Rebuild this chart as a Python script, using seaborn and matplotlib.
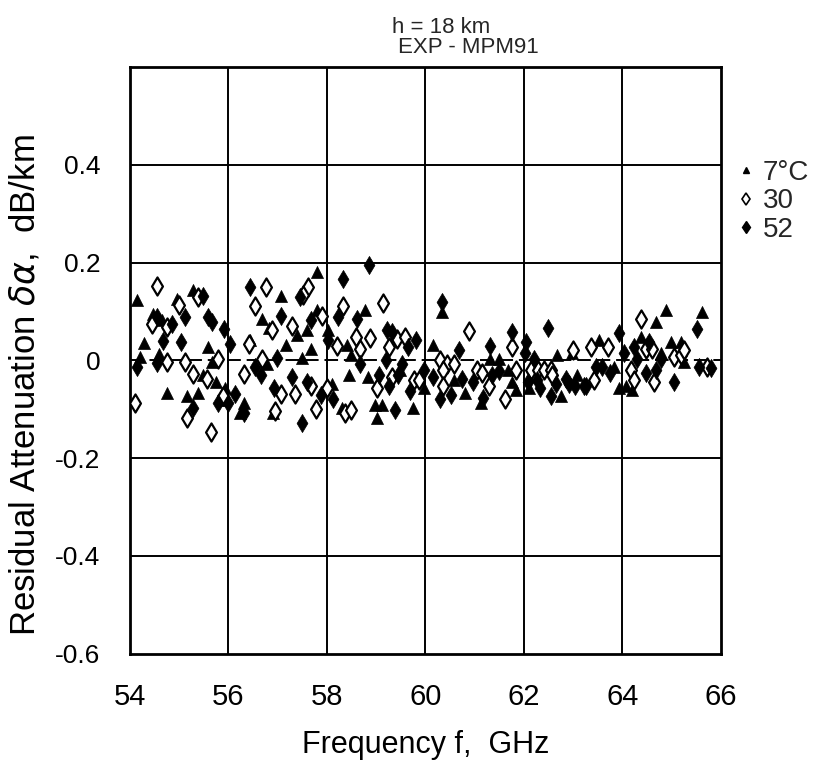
import matplotlib
matplotlib.use("Agg")
import matplotlib.pyplot as plt
from matplotlib.ticker import MultipleLocator, FixedLocator
from matplotlib.lines import Line2D
import seaborn as sns
import pandas as pd

# ---- data ----
tri_f = [54.14, 55.28, 54.95, 54.47, 54.65, 54.28, 54.59, 55.58, 54.20, 55.68, 55.48, 55.76,
         55.93, 54.75, 55.16, 55.38, 55.89, 56.23, 57.81, 57.08, 57.81, 56.68, 56.82, 57.59,
         57.39, 58.02, 57.18, 57.69, 58.42, 57.49, 58.50, 56.78, 58.10, 58.46, 58.30, 56.90,
         56.33, 56.45, 58.77, 60.33, 60.15, 59.48, 60.59, 58.83, 58.97, 59.13, 59.76, 59.03,
         61.32, 61.50, 62.68, 62.97, 61.67, 61.85, 63.07, 62.76, 61.77, 61.14, 64.89, 65.62,
         64.69, 64.38, 64.99, 65.20, 63.53, 64.79, 65.26, 63.84, 64.08, 64.20, 63.94, 59.98,
         60.80, 62.11]
tri_r = [0.124, 0.144, 0.126, 0.095, 0.082, 0.035, 0.012, 0.027, 0.006, -0.004, -0.029, -0.045,
         -0.056, -0.066, -0.072, -0.066, -0.082, -0.107, 0.181, 0.132, 0.103, 0.085, 0.066, 0.062,
         0.052, 0.062, 0.031, 0.023, 0.031, 0.004, 0.010, -0.008, -0.049, -0.029, -0.097, -0.107,
         -0.087, 0.041, 0.103, 0.099, 0.031, -0.019, -0.041, -0.035, -0.091, -0.091, -0.097, -0.118,
         0.002, 0.002, 0.010, 0.016, -0.019, -0.060, -0.031, -0.072, -0.045, -0.087, 0.103, 0.099,
         0.078, 0.047, 0.037, 0.037, 0.041, 0.016, -0.004, -0.014, -0.052, -0.060, -0.056, -0.056,
         -0.066, -0.056]

opn_f = [54.55, 55.38, 55.01, 54.45, 54.75, 54.75, 55.12, 55.79, 55.28, 55.56, 55.89, 54.10,
         55.16, 55.66, 56.76, 57.61, 57.51, 56.54, 58.32, 57.91, 56.88, 57.29, 58.20, 56.43,
         56.68, 56.33, 57.08, 57.35, 57.69, 58.00, 57.79, 58.38, 58.50, 56.94, 59.15, 60.88,
         58.87, 58.60, 59.42, 59.58, 59.27, 58.67, 60.29, 60.45, 60.59, 60.35, 59.33, 59.78,
         59.88, 59.03, 60.35, 61.77, 62.99, 61.04, 61.16, 61.85, 62.15, 62.28, 62.42, 62.56,
         62.58, 61.30, 61.61, 64.38, 63.37, 63.70, 64.49, 64.61, 65.05, 65.20, 65.26, 65.72,
         64.18, 64.65, 63.43, 64.24]
opn_r = [0.153, 0.130, 0.113, 0.074, 0.068, -0.004, -0.004, 0.002, -0.027, -0.039, -0.072, -0.087,
         -0.118, -0.146, 0.151, 0.151, 0.134, 0.111, 0.111, 0.091, 0.062, 0.070, 0.029, 0.033,
         0.002, -0.027, -0.068, -0.068, -0.052, -0.056, -0.099, -0.107, -0.101, -0.103, 0.118, 0.060,
         0.045, 0.047, 0.043, 0.047, 0.027, 0.023, 0.000, -0.008, -0.008, -0.019, -0.035, -0.041,
         -0.041, -0.056, -0.052, 0.027, 0.021, -0.019, -0.025, -0.019, -0.019, -0.019, -0.019, -0.019,
         -0.031, -0.052, -0.080, 0.085, 0.027, 0.027, 0.023, 0.023, 0.006, 0.010, 0.021, -0.014,
         -0.019, -0.045, -0.041, -0.041]

fil_f = [55.48, 54.55, 54.85, 55.12, 55.58, 55.68, 55.91, 54.67, 55.05, 56.03, 54.14, 54.55,
         56.13, 55.79, 55.99, 55.28, 58.32, 56.45, 57.45, 57.08, 58.22, 57.69, 58.02, 56.98,
         56.54, 56.66, 57.29, 56.92, 57.59, 57.89, 58.12, 56.33, 57.49, 60.33, 58.62, 59.23,
         59.33, 59.82, 59.64, 60.69, 59.21, 58.67, 59.52, 59.98, 60.15, 60.75, 59.07, 59.44,
         59.27, 59.68, 60.53, 60.29, 59.38, 62.50, 61.77, 61.32, 62.05, 62.03, 62.21, 61.50,
         61.36, 62.26, 62.32, 62.66, 62.86, 62.92, 63.23, 62.56, 60.96, 62.09, 61.18, 65.52,
         63.94, 64.55, 64.24, 64.04, 64.79, 65.56, 64.30, 64.49, 64.69, 65.05, 63.74, 63.27,
         63.47, 63.59, 63.03, 58.85, 65.80]
fil_r = [0.132, 0.089, 0.074, 0.089, 0.089, 0.078, 0.064, 0.039, 0.037, 0.033, -0.014, -0.006,
         -0.068, -0.087, -0.087, -0.097, 0.167, 0.151, 0.130, 0.091, 0.089, 0.082, 0.041, 0.004,
         -0.014, -0.029, -0.035, -0.056, -0.045, -0.070, -0.080, -0.107, -0.128, 0.120, 0.085, 0.062,
         0.058, 0.041, 0.027, 0.021, 0.000, -0.008, -0.008, -0.019, -0.035, -0.039, -0.029, -0.031,
         -0.052, -0.062, -0.070, -0.080, -0.101, 0.066, 0.058, 0.029, 0.037, 0.014, 0.002, -0.021,
         -0.031, -0.041, -0.056, -0.049, -0.039, -0.049, -0.052, -0.072, -0.045, -0.045, -0.078, 0.064,
         0.056, 0.037, 0.027, 0.016, 0.002, -0.014, 0.002, -0.025, -0.019, -0.045, -0.025, -0.052,
         -0.014, -0.014, -0.052, 0.196, -0.016]

legend_labels = ["7°C", "30", "52"]
x_ticks = [54, 56, 58, 60, 62, 64, 66]
y_ticks = [-0.6, -0.4, -0.2, 0, 0.2, 0.4]
y_tick_labels = ["-0.6", "-0.4", "-0.2", "0", "0.2", "0.4"]

# ---- style ----
sns.set_theme(style="white")
plt.rcParams["font.family"] = ["Liberation Sans", "DejaVu Sans"]
plt.rcParams["mathtext.fontset"] = "dejavusans"

fig = plt.figure(figsize=(8.21, 7.61), dpi=100)
ax = fig.add_axes([0.158, 0.141, 0.720, 0.771])

# grid lines
for gx in [56, 58, 60, 62, 64]:
    ax.axvline(gx, color="black", lw=1.4, zorder=1)
for gy in [0.4, 0.2, -0.2, -0.4]:
    ax.axhline(gy, color="black", lw=1.4, zorder=1)
ax.axhline(0, color="black", lw=1.4, ls=(0, (7, 3)), zorder=1)

df_t = pd.DataFrame({"f": tri_f, "r": tri_r})
df_o = pd.DataFrame({"f": opn_f, "r": opn_r})
df_d = pd.DataFrame({"f": fil_f, "r": fil_r})

sns.scatterplot(data=df_t, x="f", y="r", marker="^", s=75, color="black",
                edgecolor="black", linewidth=0.5, ax=ax, zorder=3)
sns.scatterplot(data=df_o, x="f", y="r", marker="d", s=85, color="white",
                edgecolor="black", linewidth=1.6, ax=ax, zorder=4)
sns.scatterplot(data=df_d, x="f", y="r", marker="d", s=85, color="black",
                edgecolor="black", linewidth=0.5, ax=ax, zorder=5)

ax.set_xlim(54, 66)
ax.set_ylim(-0.6, 0.6)
ax.xaxis.set_major_locator(FixedLocator(x_ticks))
ax.yaxis.set_major_locator(FixedLocator(y_ticks))
ax.set_yticklabels(y_tick_labels)
ax.xaxis.set_minor_locator(MultipleLocator(0.5))
ax.yaxis.set_minor_locator(MultipleLocator(0.025))
ax.tick_params(axis="both", which="both", direction="in", colors="black",
               top=False, right=False)
ax.tick_params(axis="both", which="minor", length=6, width=1.3)
ax.tick_params(axis="x", which="major", length=0, pad=21, labelsize=21)
ax.tick_params(axis="y", which="major", length=0, pad=21, labelsize=19)
for sp in ax.spines.values():
    sp.set_color("black")
    sp.set_linewidth(2.0)

ax.set_xlabel("Frequency f,  GHz", fontsize=22, labelpad=14, color="black")
ax.set_ylabel(r"Residual Attenuation $\delta\alpha$,  dB/km", fontsize=25,
              labelpad=10, color="black")
ax.yaxis.label.set_y(0.457)

fig.text(0.537, 0.9645, "h = 18 km", ha="center", va="center", fontsize=16)
fig.text(0.571, 0.937, "EXP - MPM91", ha="center", va="center", fontsize=16)

handles = [
    Line2D([], [], ls="none", marker="^", color="black", markersize=5),
    Line2D([], [], ls="none", marker="d", markerfacecolor="white",
           markeredgecolor="black", markeredgewidth=1.2, markersize=6),
    Line2D([], [], ls="none", marker="d", color="black", markersize=6),
]
leg = ax.legend(handles, legend_labels, loc="upper left", bbox_to_anchor=(1.01, 0.86),
                frameon=False, fontsize=20, handlelength=0.6, handletextpad=0.3,
                labelspacing=0.08, borderaxespad=0)

fig.savefig("out.png", dpi=100, facecolor="white")
